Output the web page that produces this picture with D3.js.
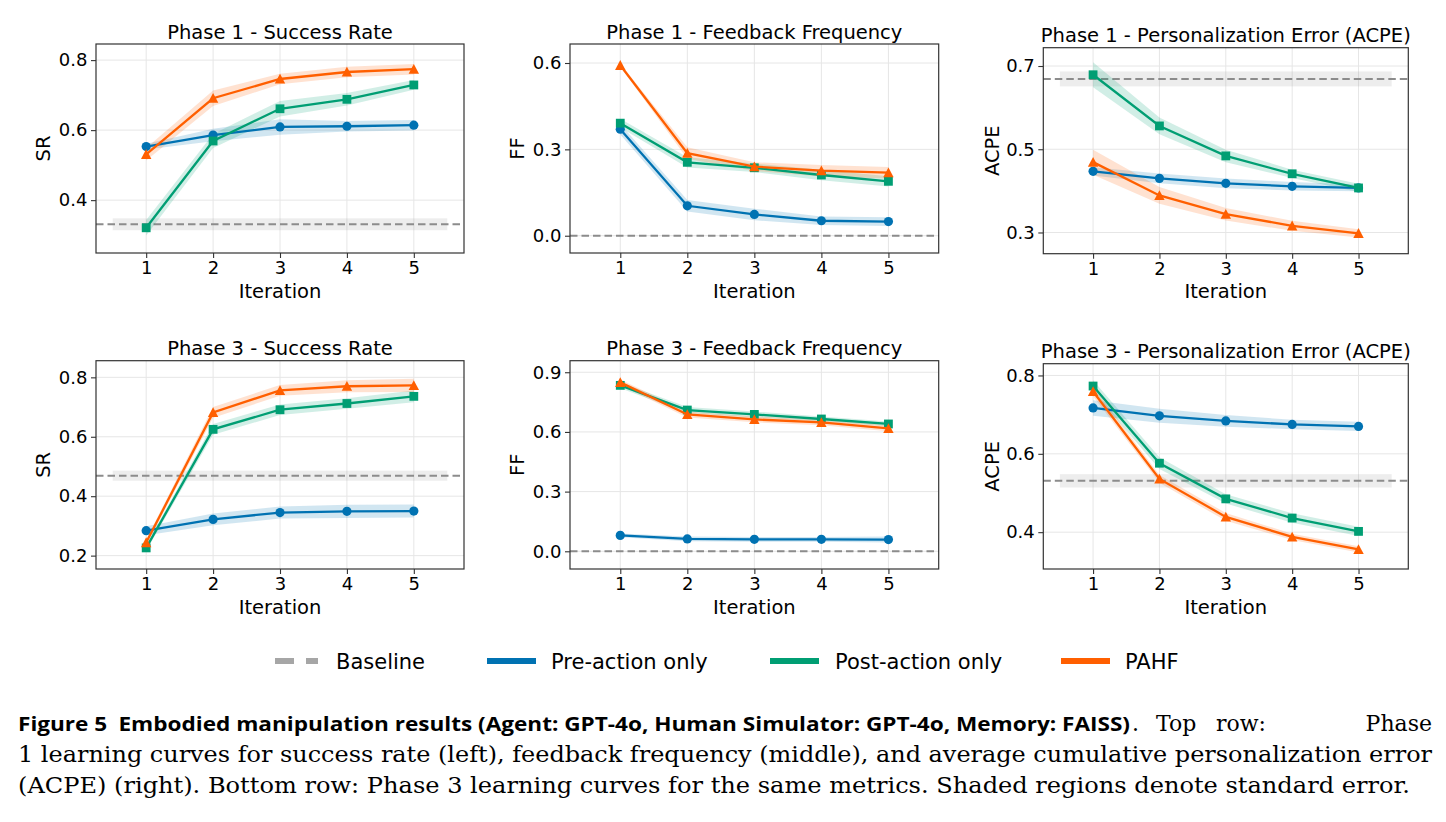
<!DOCTYPE html>
<html>
<head>
<meta charset="utf-8">
<script src="https://cdn.jsdelivr.net/npm/d3@7"></script>
<style>
  body { margin: 0; background: #fff; }
  text { font-family: "DejaVu Sans", sans-serif; fill: #000; }
</style>
</head>
<body>
<script>
const width = 1446, height = 822;

const iterations = [1, 2, 3, 4, 5];
const seriesNames = ["Pre-action only", "Post-action only", "PAHF"];
const seriesColors = ["#0072B2", "#009E73", "#FF5F00"];

// values: [pre, post, pahf]
const p1SR = [[0.553, 0.586, 0.609, 0.611, 0.614], [0.321, 0.569, 0.661, 0.688, 0.729], [0.531, 0.691, 0.746, 0.766, 0.774]];
const p1SRerr = [[0.008, 0.018, 0.022, 0.015, 0.015], [0.022, 0.02, 0.022, 0.018, 0.014], [0.018, 0.022, 0.015, 0.015, 0.015]];
const p1FF = [[0.370, 0.104, 0.074, 0.052, 0.049], [0.391, 0.255, 0.236, 0.211, 0.189], [0.592, 0.287, 0.240, 0.226, 0.219]];
const p1FFerr = [[0.018, 0.02, 0.02, 0.015, 0.015], [0.015, 0.018, 0.015, 0.018, 0.018], [0.005, 0.02, 0.015, 0.02, 0.02]];
const p1ACPE = [[0.447, 0.430, 0.418, 0.411, 0.407], [0.679, 0.556, 0.484, 0.441, 0.407], [0.469, 0.389, 0.344, 0.316, 0.298]];
const p1ACPEerr = [[0.01, 0.012, 0.012, 0.01, 0.008], [0.03, 0.02, 0.015, 0.01, 0.01], [0.03, 0.02, 0.015, 0.012, 0.01]];

const p3SR = [[0.284, 0.322, 0.345, 0.349, 0.350], [0.226, 0.625, 0.691, 0.712, 0.736], [0.244, 0.682, 0.756, 0.770, 0.773]];
const p3SRerr = [[0.015, 0.02, 0.02, 0.022, 0.022], [0.01, 0.018, 0.018, 0.018, 0.02], [0.01, 0.018, 0.018, 0.02, 0.022]];
const p3FF = [[0.080, 0.062, 0.060, 0.060, 0.059], [0.834, 0.710, 0.688, 0.665, 0.640], [0.849, 0.688, 0.663, 0.648, 0.618]];
const p3FFerr = [[0.01, 0.012, 0.012, 0.012, 0.015], [0.015, 0.015, 0.015, 0.012, 0.012], [0.015, 0.015, 0.015, 0.015, 0.015]];
const p3ACPE = [[0.717, 0.697, 0.684, 0.675, 0.670], [0.773, 0.576, 0.485, 0.436, 0.402], [0.759, 0.536, 0.439, 0.388, 0.356]];
const p3ACPEerr = [[0.02, 0.018, 0.015, 0.012, 0.012], [0.015, 0.015, 0.012, 0.012, 0.012], [0.012, 0.01, 0.01, 0.008, 0.008]];

// baseline mean and its standard error per panel
const baseValues = [0.331, 0.0, 0.669, 0.469, 0.0, 0.531];
const baseErrors = [0.017, 0.0, 0.018, 0.017, 0.0, 0.017];

const titles = ["Phase 1 - Success Rate", "Phase 1 - Feedback Frequency", "Phase 1 - Personalization Error (ACPE)",
                "Phase 3 - Success Rate", "Phase 3 - Feedback Frequency", "Phase 3 - Personalization Error (ACPE)"];
const yLabels = ["SR", "FF", "ACPE", "SR", "FF", "ACPE"];
const yTicks = [[0.4, 0.6, 0.8], [0.0, 0.3, 0.6], [0.3, 0.5, 0.7], [0.2, 0.4, 0.6, 0.8], [0.0, 0.3, 0.6, 0.9], [0.4, 0.6, 0.8]];
const yDomains = [[0.249, 0.846], [-0.060, 0.666], [0.249, 0.744], [0.155, 0.856], [-0.089, 0.958], [0.306, 0.830]];

const legendNames = ["Baseline", ...seriesNames];

const caption1Bold = "Figure 5\u2002Embodied manipulation results (Agent: GPT-4o, Human Simulator: GPT-4o, Memory: FAISS)";
const caption1Words = [".", "Top", "row:", "Phase"];
const caption2 = "1 learning curves for success rate (left), feedback frequency (middle), and average cumulative personalization error";
const caption3 = "(ACPE) (right). Bottom row: Phase 3 learning curves for the same metrics. Shaded regions denote standard error.";

// panel boxes [left, top, right, bottom]
const boxes = [
  [96, 44, 464, 253], [570, 44, 938.7, 253], [1043.3, 47.7, 1408.3, 253.7],
  [96, 360.7, 464, 569], [570, 360.7, 938.7, 569], [1043.3, 363.7, 1408.3, 569]
];
const panelData = [p1SR, p1FF, p1ACPE, p3SR, p3FF, p3ACPE];
const panelErr = [p1SRerr, p1FFerr, p1ACPEerr, p3SRerr, p3FFerr, p3ACPEerr];

const svg = d3.select("body").append("svg")
  .attr("width", width)
  .attr("height", height);

function marker(g, type, x, y, color) {
  if (type === 0) {
    g.append("circle").attr("cx", x).attr("cy", y).attr("r", 4.6).attr("fill", color);
  } else if (type === 1) {
    g.append("rect").attr("x", x - 4.4).attr("y", y - 4.4).attr("width", 8.8).attr("height", 8.8).attr("fill", color);
  } else {
    g.append("path").attr("d", `M${x},${y - 5.2}L${x + 5.2},${y + 4.6}L${x - 5.2},${y + 4.6}Z`).attr("fill", color);
  }
}

for (let p = 0; p < 6; p++) {
  const [x0, y0, x1, y1] = boxes[p];
  const g = svg.append("g");

  const x = d3.scaleLinear().domain([0.25, 5.75]).range([x0, x1]);
  const y = d3.scaleLinear().domain(yDomains[p]).range([y1, y0]);

  // grid
  g.append("g").selectAll("line").data(iterations).join("line")
    .attr("x1", d => x(d)).attr("x2", d => x(d))
    .attr("y1", y0).attr("y2", y1)
    .attr("stroke", "#e6e6e6").attr("stroke-width", 1);
  g.append("g").selectAll("line").data(yTicks[p]).join("line")
    .attr("x1", x0).attr("x2", x1)
    .attr("y1", d => y(d)).attr("y2", d => y(d))
    .attr("stroke", "#e6e6e6").attr("stroke-width", 1);

  // baseline
  if (baseErrors[p] > 0) {
    g.append("rect")
      .attr("x", x(0.5)).attr("width", x(5.5) - x(0.5))
      .attr("y", y(baseValues[p] + baseErrors[p]))
      .attr("height", y(baseValues[p] - baseErrors[p]) - y(baseValues[p] + baseErrors[p]))
      .attr("fill", "#999").attr("opacity", 0.18);
  }
  g.append("line")
    .attr("x1", x0).attr("x2", x1)
    .attr("y1", y(baseValues[p])).attr("y2", y(baseValues[p]))
    .attr("stroke", "#8c8c8c").attr("stroke-width", 2)
    .attr("stroke-dasharray", "7.5,4");

  const area = d3.area()
    .x((d, i) => x(iterations[i]))
    .y0(d => y(d[0] - d[1]))
    .y1(d => y(d[0] + d[1]));
  const line = d3.line()
    .x((d, i) => x(iterations[i]))
    .y(d => y(d));

  panelData[p].forEach((vals, s) => {
    const band = vals.map((v, i) => [v, panelErr[p][s][i]]);
    g.append("path").datum(band).attr("d", area)
      .attr("fill", seriesColors[s]).attr("opacity", 0.18);
  });
  panelData[p].forEach((vals, s) => {
    const sg = g.append("g");
    sg.append("path").datum(vals).attr("d", line)
      .attr("fill", "none").attr("stroke", seriesColors[s]).attr("stroke-width", 2.3);
    vals.forEach((v, i) => marker(sg, s, x(iterations[i]), y(v), seriesColors[s]));
  });

  // axes
  const ax = g.append("g").attr("transform", `translate(0,${y1})`)
    .call(d3.axisBottom(x).tickValues(iterations).tickFormat(d3.format("d")).tickSize(5).tickPadding(3.5));
  const ay = g.append("g").attr("transform", `translate(${x0},0)`)
    .call(d3.axisLeft(y).tickValues(yTicks[p]).tickFormat(d3.format(".1f")).tickSize(5).tickPadding(3.5));
  [ax, ay].forEach(a => {
    a.select(".domain").remove();
    a.selectAll(".tick line").attr("stroke", "#333").attr("stroke-width", 1.1);
    a.selectAll(".tick text").attr("font-size", 18).attr("font-family", "DejaVu Sans").attr("fill", "#000");
  });

  // frame
  g.append("rect")
    .attr("x", x0).attr("y", y0).attr("width", x1 - x0).attr("height", y1 - y0)
    .attr("fill", "none").attr("stroke", "#333").attr("stroke-width", 1.2);

  // labels
  g.append("text")
    .attr("x", (x0 + x1) / 2).attr("y", y0 - 5.5)
    .attr("text-anchor", "middle").attr("font-size", 19.5)
    .text(titles[p]);
  g.append("text")
    .attr("x", (x0 + x1) / 2).attr("y", y1 + 44.5)
    .attr("text-anchor", "middle").attr("font-size", 19.5)
    .text("Iteration");
  const ylx = [43, 516.7, 992.3][p % 3] + 7;
  g.append("text")
    .attr("transform", `translate(${ylx},${(y0 + y1) / 2}) rotate(-90)`)
    .attr("text-anchor", "middle").attr("font-size", 19.5)
    .text(yLabels[p]);
}

// legend
const legendLines = [[275, 318], [487, 536], [770, 819], [1061, 1110]];
const legendTextX = [336, 551, 835, 1125];
const legendColors = ["#a6a6a6", ...seriesColors];
const lg = svg.append("g");
legendNames.forEach((name, i) => {
  lg.append("line")
    .attr("x1", legendLines[i][0]).attr("x2", legendLines[i][1])
    .attr("y1", 661).attr("y2", 661)
    .attr("stroke", legendColors[i]).attr("stroke-width", 6)
    .attr("stroke-dasharray", i === 0 ? "19,12" : null);
  lg.append("text")
    .attr("x", legendTextX[i]).attr("y", 668.5)
    .attr("font-size", 21)
    .text(name);
});

// caption: stretched to the justified widths of the original
const serif = "'DejaVu Serif', serif";
const cap = svg.append("g");
cap.append("text").attr("x", 18).attr("y", 731)
  .style("font-family", "'Open Sans', sans-serif").attr("font-weight", 700).attr("font-size", 19.5)
  .attr("textLength", 1112).attr("lengthAdjust", "spacingAndGlyphs")
  .text(caption1Bold);
// tail of line 1: justified words with wide gaps
const tailX = [1132, 1156, 1216, 1432];
caption1Words.forEach((w, i) => {
  cap.append("text").attr("x", tailX[i]).attr("y", 731)
    .style("font-family", serif).attr("font-size", 22)
    .attr("text-anchor", i === 3 ? "end" : "start")
    .text(w);
});
cap.append("text").attr("x", 18).attr("y", 762)
  .style("font-family", serif).attr("font-size", 22)
  .attr("textLength", 1414).attr("lengthAdjust", "spacingAndGlyphs")
  .text(caption2);
cap.append("text").attr("x", 18).attr("y", 793)
  .style("font-family", serif).attr("font-size", 22)
  .attr("textLength", 1392).attr("lengthAdjust", "spacingAndGlyphs")
  .text(caption3);
</script>
</body>
</html>
